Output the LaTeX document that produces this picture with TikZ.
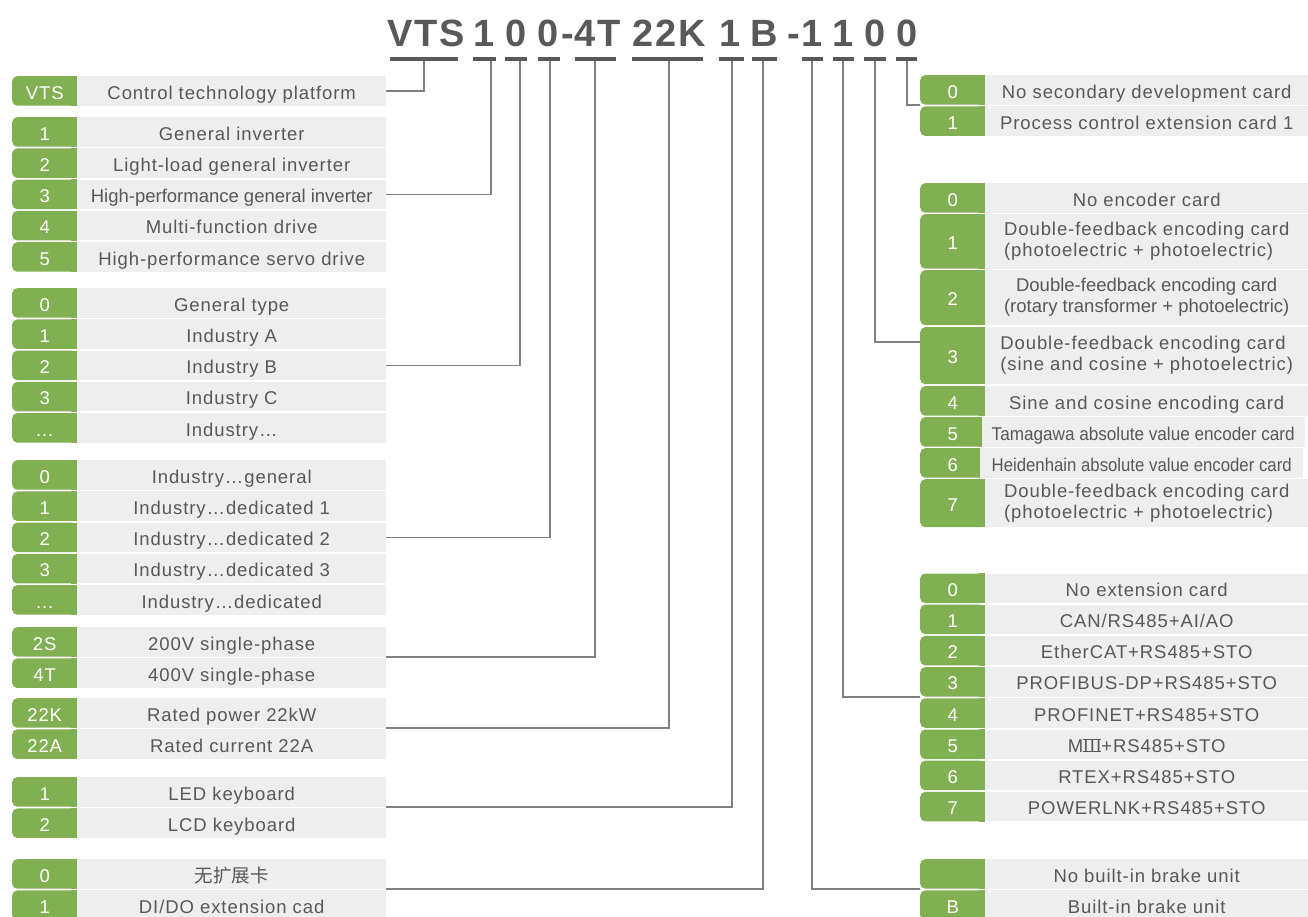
\documentclass[tikz,border=0pt]{standalone}
\usepackage{fontspec}
\usepackage{graphicx}
\setmainfont{Liberation Sans}[LetterSpace=5]
\newfontfamily\plainf{Liberation Sans}
\newfontfamily\cjk{Noto Sans CJK SC}
\usetikzlibrary{calc}
\definecolor{grn}{RGB}{128,176,82}
\definecolor{lgr}{RGB}{238,238,238}
\definecolor{txt}{RGB}{88,88,88}
\definecolor{ttl}{RGB}{89,89,89}
\definecolor{cn}{RGB}{128,128,128}
\newcommand\fitw[2]{\resizebox{#1}{\height}{#2}}
\newcommand\romthree{\begingroup\setbox0=\hbox{\plainf I\kern1.3pt I\kern1.3pt I}%
  \rlap{\rule{\wd0}{1.4pt}}\rlap{\rule[11.9pt]{\wd0}{1.4pt}}\box0\endgroup}
\newcommand\Lrow[4]{%
  \node[numbox] (#1n) at (12,#2) {#3};
  \fill[grn] (#1n.north east) ++(-6,0) rectangle (#1n.south east);
  \node[lbar] (#1t) at (77,#2) {#4};}
\newcommand\Rrow[6]{%
  \node[numbox, minimum height=#3pt] (#1n) at (920,#2) {#4};
  \fill[grn] (#1n.north east) ++(-6,0) rectangle (#1n.south east);
  \node[rbar, minimum height=#3pt, #6] (#1t) at (985,#2) {#5};}
\begin{document}
\begin{tikzpicture}[x=1pt,y=-1pt,
  every node/.style={font=\fontsize{18.5}{21}\selectfont},
  numbox/.style={fill=grn, rounded corners=5pt, text=white, minimum width=65pt,
    minimum height=29.5pt, inner sep=0pt, anchor=north west, text height=18.2pt, text depth=2pt},
  lbar/.style={fill=lgr, text=txt, minimum width=309pt, minimum height=29.5pt,
    inner sep=0pt, anchor=north west, text height=18.2pt, text depth=2pt},
  rbar/.style={fill=lgr, text=txt, minimum width=323pt, minimum height=29.5pt,
    inner sep=0pt, anchor=north west, text height=18.2pt, text depth=2pt},
  two/.style={text height=, text depth=, align=left},
  tt/.style={font=\fontsize{38}{40}\selectfont\bfseries, text=ttl, anchor=base, inner sep=0pt},
  ul/.style={draw=ttl, line width=4pt},
  conn/.style={draw=cn, line width=1.6pt}]
\useasboundingbox (0,0) rectangle (1308,917);
\clip (0,0) rectangle (1308,917);
\fill[white] (0,0) rectangle (1308,917);

% title
\node[tt] (tv) at (426,47) {VTS};
\node[tt] (t1) at (484.5,47) {1};
\node[tt] (t2) at (516.5,47) {0};
\node[tt] (t3) at (548.5,47) {0};
\node[tt] (th1) at (567.5,47) {-};
\node[tt] (t4) at (597.5,47) {4T};
\node[tt] (t5) at (669,47) {22K};
\node[tt] (t6) at (730,47) {1};
\node[tt] (t7) at (764,47) {B};
\node[tt] (th2) at (793.5,47) {-};
\node[tt] (t8) at (812,47) {1};
\node[tt] (t9) at (843,47) {1};
\node[tt] (t10) at (875,47) {0};
\node[tt] (t11) at (907,47) {0};

% underlines
\draw[ul] (390,59) -- (458,59);
\draw[ul] (473,59) -- (496,59);
\draw[ul] (505,59) -- (527,59);
\draw[ul] (538,59) -- (560,59);
\draw[ul] (575,59) -- (616,59);
\draw[ul] (632,59) -- (703,59);
\draw[ul] (719,59) -- (744,59);
\draw[ul] (752,59) -- (777,59);
\draw[ul] (802,59) -- (823,59);
\draw[ul] (833,59) -- (854,59);
\draw[ul] (864,59) -- (886,59);
\draw[ul] (896,59) -- (917,59);

\coordinate (k1) at (424,61);
\coordinate (k2) at (491,61);
\coordinate (k3) at (520,61);
\coordinate (k4) at (550,61);
\coordinate (k5) at (595,61);
\coordinate (k6) at (669,61);
\coordinate (k7) at (732,61);
\coordinate (k8) at (763,61);
\coordinate (k9) at (812,61);
\coordinate (k10) at (843,61);
\coordinate (k11) at (875,61);
\coordinate (k12) at (907,61);

% left column
\Lrow{a0}{76}{VTS}{Control technology platform}
\Lrow{b1}{117}{1}{General inverter}
\Lrow{b2}{148.25}{2}{Light-load general inverter}
\Lrow{b3}{179.5}{3}{{\plainf High-performance general inverter}}
\Lrow{b4}{210.75}{4}{Multi-function drive}
\Lrow{b5}{242}{5}{High-performance servo drive}
\Lrow{c0}{288}{0}{General type}
\Lrow{c1}{319.25}{1}{Industry A}
\Lrow{c2}{350.5}{2}{Industry B}
\Lrow{c3}{381.75}{3}{Industry C}
\Lrow{c4}{413}{...}{Industry…}
\Lrow{d0}{460}{0}{Industry…general}
\Lrow{d1}{491.25}{1}{Industry…dedicated 1}
\Lrow{d2}{522.5}{2}{Industry…dedicated 2}
\Lrow{d3}{553.75}{3}{Industry…dedicated 3}
\Lrow{d4}{585}{...}{Industry…dedicated}
\Lrow{e0}{627}{2S}{200V single-phase}
\Lrow{e1}{658.25}{4T}{400V single-phase}
\Lrow{f0}{698}{22K}{Rated power 22kW}
\Lrow{f1}{729.25}{22A}{Rated current 22A}
\Lrow{g0}{777}{1}{LED keyboard}
\Lrow{g1}{808.25}{2}{LCD keyboard}
\Lrow{h0}{859}{0}{{\cjk 无扩展卡}}
\Lrow{h1}{890.25}{1}{DI/DO extension cad}

% right column
\Rrow{ra0}{75}{29.5}{0}{No secondary development card}{}
\Rrow{ra1}{106.25}{29.5}{1}{Process control extension card 1}{}
\Rrow{rb0}{183}{29.5}{0}{No encoder card}{}
\Rrow{rb1}{214}{54.5}{1}{Double-feedback encoding card\\(photoelectric + photoelectric)}{two}
\Rrow{rb2}{270}{55}{2}{Double-feedback encoding card\\(rotary transformer + photoelectric)}{two, align=center, font=\fontsize{18.5}{21}\selectfont\plainf}
\Rrow{rb3}{327}{57}{3}{Double-feedback encoding card\\(sine and cosine + photoelectric)}{two}
\Rrow{rb4}{386}{29.5}{4}{Sine and cosine encoding card}{}
\Rrow{rb5}{417}{29.5}{5}{\fitw{303pt}{\plainf Tamagawa absolute value encoder card}}{xshift=-3.5pt}
\Rrow{rb6}{448}{29.5}{6}{\fitw{300pt}{\plainf Heidenhain absolute value encoder card}}{xshift=-5pt}
\Rrow{rb7}{479}{48}{7}{Double-feedback encoding card\\(photoelectric + photoelectric)}{two}
\Rrow{rc0}{573.3}{29.5}{0}{No extension card}{}
\Rrow{rc1}{604.5}{29.5}{1}{CAN/RS485+AI/AO}{}
\Rrow{rc2}{635.7}{29.5}{2}{EtherCAT+RS485+STO}{}
\Rrow{rc3}{666.9}{29.5}{3}{PROFIBUS-DP+RS485+STO}{}
\Rrow{rc4}{698.1}{29.5}{4}{PROFINET+RS485+STO}{}
\Rrow{rc5}{729.3}{29.5}{5}{M\romthree+RS485+STO}{}
\Rrow{rc6}{760.5}{29.5}{6}{RTEX+RS485+STO}{}
\Rrow{rc7}{791.7}{29.5}{7}{POWERLNK+RS485+STO}{}
\Rrow{rd0}{859}{29.5}{}{No built-in brake unit}{}
\Rrow{rd1}{890.25}{29.5}{B}{Built-in brake unit}{}

% connectors
\draw[conn] (k1) |- (a0t.east);
\draw[conn] (k2) |- (b3t.east);
\draw[conn] (k3) |- (c2t.east);
\draw[conn] (k4) |- (d2t.east);
\draw[conn] (k5) |- (e0t.south east);
\draw[conn] (k6) |- (f0t.south east);
\draw[conn] (k7) |- (g0t.south east);
\draw[conn] (k8) |- (h0t.south east);
\draw[conn] (k9) |- (rd0n.south west);
\draw[conn] (k10) |- (rc3n.south west);
\draw[conn] (k11) |- ($(rb3n.north west)+(0,15)$);
\draw[conn] (k12) |- (ra0n.south west);
\end{tikzpicture}
\end{document}
